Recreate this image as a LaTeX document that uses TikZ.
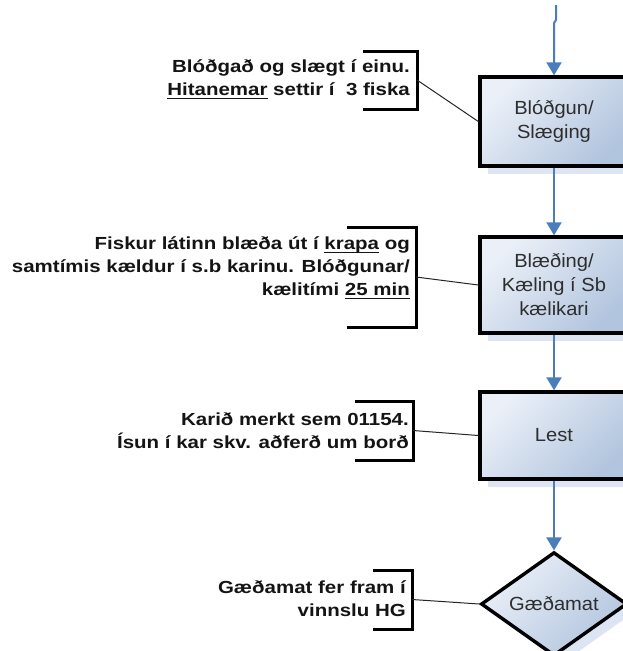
\documentclass[tikz,border=0pt]{standalone}
\usepackage{fontspec}
\usetikzlibrary{arrows.meta,shapes.geometric,shadows}
\newfontfamily\notefont[FakeStretch=1.17]{Liberation Sans}
\newfontfamily\boxfont[FakeStretch=1.06]{Liberation Sans}
% underlined word: a rule just below the baseline
\newsavebox\undlbox
\newcommand\undl[1]{\sbox\undlbox{#1}\rlap{\vrule width\wd\undlbox height -2.4pt depth 3.6pt}\usebox\undlbox}
\definecolor{flowblue}{HTML}{4A7EBB}
\definecolor{shadowblue}{HTML}{DCE5F1}
\definecolor{fillhi}{HTML}{EBF0F8}
\definecolor{filllo}{HTML}{B2C5DE}
\definecolor{boxtext}{HTML}{2E2E2E}
\pgfdeclarelayer{background}
\pgfsetlayers{background,main}
\tikzset{
  procbox/.style={draw=black, line width=3.4pt, minimum width=148pt,
    top color=fillhi, bottom color=filllo, shading angle=45,
    general shadow={shadow xshift=8pt, shadow yshift=-8pt, fill=shadowblue},
    font=\boxfont\fontsize{19}{24}\selectfont, text=boxtext, align=center,
    inner sep=0pt},
  decbox/.style={procbox, shape=diamond, line join=miter},
  note/.style={font=\notefont\bfseries\fontsize{17.5}{23}\selectfont,
    text=black!92, align=right, inner sep=0pt, anchor=east},
  bracket/.style={draw=black, line width=3pt, line join=miter},
  bracketshade/.style={draw=shadowblue, line width=2.6pt, line join=miter},
  link/.style={draw=black!85, line width=1pt},
  linkshade/.style={draw=shadowblue, line width=1.6pt,
    transform canvas={shift={(8pt,-8pt)}}},
  flow/.style={draw=flowblue, line width=2pt,
    -{Triangle[width=15pt,length=13pt]}},
}
\begin{document}
\begin{tikzpicture}[x=1pt,y=-1pt]
\path[use as bounding box] (0,0) rectangle (623,651);
\clip (0,0) rectangle (623,651);
\fill[white] (0,0) rectangle (623,651);

% process steps
\node[procbox, minimum height=89pt] (b1) at (554,121.5) {\raisebox{-6pt}{\shortstack{Blóðgun/\\[4pt]Slæging}}};
\node[procbox, minimum height=96pt] (b2) at (554,285) {Blæðing/\\Kæling í Sb\\kælikari};
\node[procbox, minimum height=87pt] (b3) at (554,435.5) {Lest};
\node[decbox, minimum width=146pt, minimum height=88pt] (d1) at (554,604) {Gæðamat};

% incoming flow from the previous step
\coordinate (src) at (556,5);
\draw[flow] (src) -- ++(0,15) -- ++(-2,3) -- (b1.north);
\draw[flow] (b1.south) -- (b2.north);
\draw[flow] (b2.south) -- (b3.north);
\draw[flow] (b3.south) -- (d1.north);

% annotations with their brackets
\node[note] (t1) at (410,79) {Blóðgað og slægt í einu.\\\undl{Hitanemar} settir í\ \ 3 fiska};
\node[note] (t2) at (410,268) {Fiskur látinn blæða út í \undl{krapa} og\\samtímis kældur í s.b karinu. Blóðgunar/\\kælitími \undl{25 min}};
\node[note] (t3) at (409,431) {Karið merkt sem 01154.\\Ísun í kar skv. aðferð um borð};
\node[note] (t4) at (406,598.5) {Gæðamat fer fram í\\vinnslu HG};

\coordinate (m1) at (417,80);
\coordinate (m2) at (416,277);
\coordinate (m3) at (413,430.5);
\coordinate (m4) at (412,599.5);

\draw[bracket] (363,51) -- (417,51) -- (417,109) -- (363,109);
\draw[bracket] (347,227) -- (416,227) -- (416,327) -- (347,327);
\draw[bracket] (355,401) -- (413,401) -- (413,460) -- (355,460);
\draw[bracket] (373,570) -- (412,570) -- (412,629) -- (373,629);

\draw[link] (m1) -- (b1.west);
\draw[link] (m2) -- (b2.west);
\draw[link] (m3) -- (b3.west);
\draw[link] (m4) -- (d1.west);

% light shadows behind brackets and links
\begin{pgfonlayer}{background}
\begin{scope}[shift={(8,8)}]
\draw[bracketshade] (363,51) -- (417,51) -- (417,109) -- (363,109);
\draw[bracketshade] (347,227) -- (416,227) -- (416,327) -- (347,327);
\draw[bracketshade] (355,401) -- (413,401) -- (413,460) -- (355,460);
\draw[bracketshade] (373,570) -- (412,570) -- (412,629) -- (373,629);
\end{scope}
\draw[linkshade] (m1) -- (b1.west);
\draw[linkshade] (m2) -- (b2.west);
\draw[linkshade] (m3) -- (b3.west);
\draw[linkshade] (m4) -- (d1.west);
\end{pgfonlayer}
\end{tikzpicture}
\end{document}
